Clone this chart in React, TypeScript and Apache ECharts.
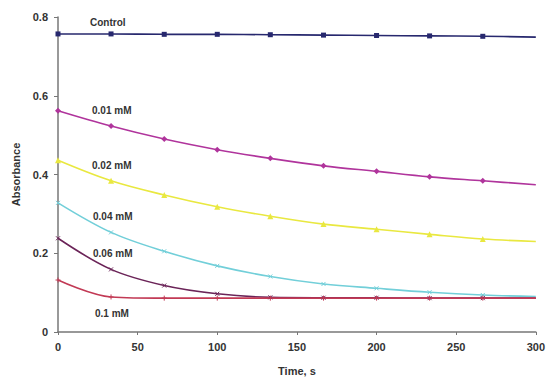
import React, { useEffect, useRef } from "react";
import * as echarts from "echarts";

const times = [0, 33.3, 66.7, 100, 133.3, 166.7, 200, 233.3, 266.7, 300];
const controlValues = [0.757, 0.757, 0.756, 0.756, 0.755, 0.754, 0.753, 0.752, 0.751, 0.749];
const mM001Values = [0.562, 0.523, 0.49, 0.463, 0.441, 0.422, 0.408, 0.394, 0.384, 0.374];
const mM002Values = [0.436, 0.384, 0.348, 0.318, 0.294, 0.274, 0.261, 0.248, 0.236, 0.23];
const mM004Values = [0.328, 0.253, 0.205, 0.168, 0.141, 0.122, 0.111, 0.101, 0.094, 0.09];
const mM006Values = [0.238, 0.159, 0.118, 0.097, 0.088, 0.087, 0.087, 0.086, 0.086, 0.086];
const mM01Values = [0.132, 0.089, 0.086, 0.086, 0.086, 0.086, 0.086, 0.086, 0.086, 0.086];
const seriesNames = ["Control", "0.01 mM", "0.02 mM", "0.04 mM", "0.06 mM", "0.1 mM"];

const crossPath = "path://M0,0L10,10M10,0L0,10";
const plusPath = "path://M5,0L5,10M0,5L10,5";

function build(values: number[]) {
  return values.map((v, i) =>
    i === values.length - 1 ? { value: [times[i], v], symbol: "none" } : { value: [times[i], v] }
  );
}

export default function App() {
  const ref = useRef<HTMLDivElement>(null);
  useEffect(() => {
    if (!ref.current) return;
    const chart = echarts.init(ref.current, undefined, { renderer: "svg" });
    const font = "Liberation Sans, Arial, sans-serif";
    const mk = (name: string, values: number[], color: string, symbol: string, size: number, strokeSym = false) => ({
      type: "line",
      name,
      data: build(values),
      smooth: 0.35,
      symbol,
      symbolSize: size,
      showAllSymbol: true,
      lineStyle: { color, width: 1.6 },
      itemStyle: strokeSym
        ? { color: "transparent", borderColor: color, borderWidth: 1 }
        : { color, borderColor: color, borderWidth: 0 },
      z: 3,
    });
    const labelStyle = (text: string, x: number, y: number) => ({
      type: "text",
      x,
      y,
      style: { text, font: `bold 10px ${font}`, fill: "#333", textVerticalAlign: "middle" },
    });
    chart.setOption({
      animation: false,
      backgroundColor: "#fff",
      grid: { left: 58, right: 10, top: 17, bottom: 44, containLabel: false },
      xAxis: {
        type: "value",
        min: 0,
        max: 300,
        interval: 50,
        name: "Time, s",
        nameLocation: "middle",
        nameGap: 33,
        nameTextStyle: { fontFamily: font, fontWeight: "bold", fontSize: 11, color: "#333" },
        axisLine: { lineStyle: { color: "#777", width: 1.5 } },
        axisTick: { show: true, inside: false, length: 3, lineStyle: { color: "#777" } },
        axisLabel: { fontFamily: font, fontWeight: "bold", fontSize: 11, color: "#333", margin: 9 },
        splitLine: { show: false },
      },
      yAxis: {
        type: "value",
        min: 0,
        max: 0.8,
        interval: 0.2,
        name: "Absorbance",
        nameLocation: "middle",
        nameGap: 33,
        nameRotate: 90,
        nameTextStyle: { fontFamily: font, fontWeight: "bold", fontSize: 11, color: "#333" },
        axisLine: { show: true, lineStyle: { color: "#777", width: 1.5 } },
        axisTick: { show: true, inside: false, length: 4, lineStyle: { color: "#777" } },
        axisLabel: {
          fontFamily: font,
          fontWeight: "bold",
          fontSize: 11,
          color: "#333",
          margin: 10,
          formatter: (v: number) => (v === 0 ? "0" : v.toFixed(1)),
        },
        splitLine: { show: false },
      },
      series: [
        mk(seriesNames[0], controlValues, "#27286e", "rect", 5),
        mk(seriesNames[1], mM001Values, "#b0349c", "diamond", 6),
        mk(seriesNames[2], mM002Values, "#e9e840", "triangle", 6),
        mk(seriesNames[3], mM004Values, "#72cfd9", crossPath, 4, true),
        mk(seriesNames[4], mM006Values, "#6b2458", crossPath, 4, true),
        mk(seriesNames[5], mM01Values, "#c23a55", plusPath, 5, true),
      ],
      graphic: [
        labelStyle(seriesNames[0], 90, 22),
        labelStyle(seriesNames[1], 92, 110),
        labelStyle(seriesNames[2], 92, 165),
        labelStyle(seriesNames[3], 93, 216),
        labelStyle(seriesNames[4], 93, 253),
        labelStyle(seriesNames[5], 95, 313),
      ],
    });
    return () => chart.dispose();
  }, []);
  return <div ref={ref} style={{ width: 548, height: 381, position: "absolute", left: 0, top: 0 }} />;
}
